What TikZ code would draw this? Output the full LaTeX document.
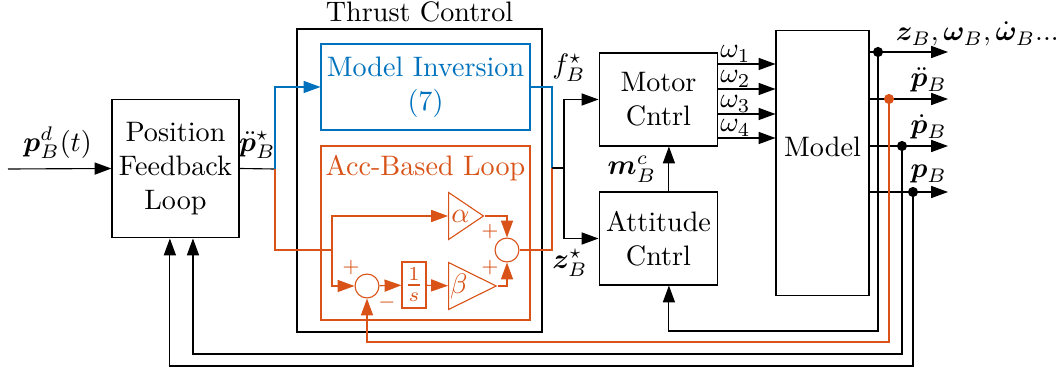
\documentclass[tikz,border=0pt]{standalone}
\usepackage{amsmath}
\usepackage{bm}
\usetikzlibrary{arrows.meta,positioning,shapes.geometric}
\definecolor{matblue}{RGB}{0,114,189}
\definecolor{matorange}{RGB}{217,83,25}
\begin{document}
\begin{tikzpicture}[x=0.01248cm,y=-0.01248cm,>={Triangle[length=6pt,width=4.3pt]},block/.style={draw,align=center,inner sep=0pt},sumnode/.style={draw,circle,minimum size=8.5pt,inner sep=0pt},gain/.style={draw,isosceles triangle,isosceles triangle stretches,minimum width=16.7pt,minimum height=12.4pt,inner sep=0pt,anchor=west},sgn/.style={font=\scriptsize,inner sep=0pt},dot/.style={circle,fill,inner sep=0pt,minimum size=3.6pt}]
\useasboundingbox (0,0) rectangle (1056,371);
% blocks
\node[block,minimum width=45.1pt,minimum height=49.3pt] (pfl) at (175.5,168.5) {Position\\Feedback\\Loop};
\node[draw,minimum width=87pt,minimum height=107.6pt] (thrust) at (419.5,180.5) {};
\node[above=-1.2pt of thrust] {Thrust Control};
\node[block,matblue,minimum width=74.2pt,minimum height=30.5pt] (minv) at (425.5,87) {Model Inversion\\(7)};
\node[draw=matorange,minimum width=74.2pt,minimum height=61.8pt] (acc) at (425.5,233) {};
\node[matorange,below=0pt of acc.north] {Acc-Based Loop};
\node[block,minimum width=42.2pt,minimum height=33pt] (motor) at (658.5,99.5) {Motor\\Cntrl};
\node[block,minimum width=42.2pt,minimum height=33pt] (att) at (658.5,238.5) {Attitude\\Cntrl};
\node[block,minimum width=33pt,minimum height=94.4pt] (model) at (822.5,163) {};
\node[yshift=5.7pt] at (model.center) {Model};
% acc-based loop
\begin{scope}[matorange,every node/.append style={text=matorange}]
\node[sumnode] (sum1) at (367,286) {};
\node[draw,inner sep=1pt,minimum width=8.5pt,minimum height=16.3pt] (integ) at (414,285) {$\frac{1}{s}$};
\node[gain] (alpha) at (448,216) {$\alpha$};
\node[gain] (beta) at (448,286) {$\beta$};
\node[sumnode] (sum2) at (507,250) {};
\node[sgn] at (351,268) {$+$};
\node[sgn] at (387,303) {$-$};
\node[sgn] at (490,232) {$+$};
\node[sgn] at (490,268) {$+$};
\end{scope}
% junctions
\coordinate (in) at (8,169);
\coordinate (bj) at (275,169);
\coordinate (sp) at (332,250);
\coordinate (oj) at (552,168);
\coordinate (cj) at (564,168);
% signals
\draw[->] (in) -- (pfl.west) node[above,pos=0.48] {$\bm p_B^d(t)$};
\draw (pfl.east) -- (bj) node[above,midway] {$\ddot{\bm p}_B^\star$};
\draw[->,matblue] (bj) |- (minv.west);
\draw[matorange] (bj) |- (sp);
\draw[->,matorange] (sp) |- (alpha.west);
\draw[->,matorange] (sp) |- (sum1.west);
\draw[->,matorange] (sum1) -- (integ);
\draw[->,matorange] (integ) -- (beta);
\draw[->,matorange] (alpha.apex) -| (sum2.north);
\draw[->,matorange] (beta.apex) -| (sum2.south);
\draw[matorange] (sum2.east) -| (oj);
\draw[matblue] (minv.east) -| (oj);
\draw (oj) -- (cj);
\draw[->] (cj) |- (motor.west);
\draw[->] (cj) |- (att.west);
\node at (569,68) {$f_B^\star$};
\node at (570,263) {$\bm z_B^\star$};
\draw[->] ([xshift=3.7pt]att.north) -- ([xshift=3.7pt]motor.south) node[left,midway,xshift=-1pt] {$\bm m_B^c$};
\foreach \i/\yy in {1/64,2/89,3/114,4/138}
  \draw[->] (motor.east |- 0,\yy) node[anchor=south west,inner sep=0.5pt] {$\omega_\i$} -- (model.west |- 0,\yy);
% outputs
\foreach \n/\yy/\xx in {1/52/878,2/99/889,3/146/902,4/192/913}{
  \coordinate (o\n) at (948,\yy);
  \coordinate (d\n) at (\xx,\yy);
  \draw[->] (model.east |- o\n) -- (o\n);
}
\node[anchor=base west] at (886,41) {$\bm z_B,\bm\omega_B,\dot{\bm\omega}_B$...};
\node[anchor=base west,inner sep=0pt] at (910,87) {$\ddot{\bm p}_B$};
\node[anchor=base west,inner sep=0pt] at (910,134) {$\dot{\bm p}_B$};
\node[anchor=base west,inner sep=0pt] at (910,178) {$\bm p_B$};
% feedback
\draw[->] (d1) |- ([xshift=3.7pt]att.south |- 0,331) -- ([xshift=3.7pt]att.south);
\draw[->,matorange] (d2) |- (sum1.south |- 0,342) -- (sum1.south);
\draw[->] (d3) |- ([xshift=6.2pt]pfl.south |- 0,354) -- ([xshift=6.2pt]pfl.south);
\draw[->] (d4) |- ([xshift=-2pt]pfl.south |- 0,366) -- ([xshift=-2pt]pfl.south);
\node[dot] at (d1) {};
\node[dot,matorange] at (d2) {};
\node[dot] at (d3) {};
\node[dot] at (d4) {};
\end{tikzpicture}
\end{document}
